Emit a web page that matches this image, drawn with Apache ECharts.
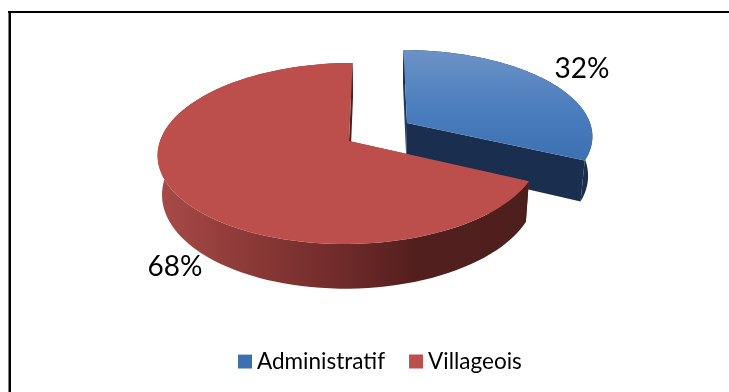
<!DOCTYPE html>
<html>
<head>
<meta charset="utf-8">
<style>html,body{margin:0;padding:0;background:#fff}#c{width:729px;height:392px}</style>
<script src="https://cdn.jsdelivr.net/npm/echarts@6/dist/echarts.min.js"></script>
</head>
<body>
<div id="c"></div>
<script>
const categories = ['Administratif', 'Villageois'];
const values = [32, 68];

const total = values.reduce((a, b) => a + b, 0);
const VPX = 378, K = 0.138, H = 38.5, BOTTOM_SCALE = 0.98, STEPS = 96;
const grad = (x, y, x2, y2, stops) => ({
  type: 'linear', x, y, x2, y2, global: true,
  colorStops: stops.map(s => ({ offset: s[0], color: s[1] }))
});
const looks = [
  { ax: 407, ay: 123, a: 183, b: 83, labelX: 582, labelY: 69,
    top: grad(0, 50, 0, 162, [[0, '#6c92c6'], [0.55, '#4a7dbd'], [1, '#3d70b1']]),
    wall: '#1a2f4f',
    cutStart: '#1f3a5f', cutEnd: '#1a2f4f' },
  { ax: 349, ay: 141, a: 189, b: 88.8, labelX: 175, labelY: 267,
    top: '#bc4f4c',
    wall: grad(157, 0, 527, 0, [[0, '#a84b48'], [0.22, '#8f3b39'], [0.5, '#6f2b2a'], [0.7, '#521f1e'], [1, '#4d1f1d']]),
    cutStart: '#7a3331', cutEnd: '#4d1f1d' }
];
const swatches = [
  grad(0, 0, 0, 1, [[0, '#5f8ac3'], [1, '#3d70b1']]),
  '#bc4f4c'
];

function project(look, angle, r) {
  const u = Math.sin(angle) * r, v = -Math.cos(angle) * r;
  const w = 1 - K * v;
  return { x: VPX + (look.ax - VPX + look.a * u) / w, y: look.ay + look.b * v / w, w };
}
const under = p => [VPX + (p.x - VPX) * BOTTOM_SCALE, p.y + H / p.w];
const over = p => [p.x, p.y];

function slice(i) {
  return function (params, api) {
    const share = api.value(0) / total * Math.PI * 2;
    let before = 0;
    for (let j = 0; j < i; j++) before += values[j];
    const a0 = before / total * Math.PI * 2, a1 = a0 + share;
    const look = looks[i];
    const rim = [];
    for (let s = 0; s <= STEPS; s++) rim.push(project(look, a0 + (a1 - a0) * s / STEPS, 1));
    const apex = project(look, 0, 0);
    const poly = (points, fill) => ({ type: 'polygon', shape: { points }, style: { fill }, silent: true });
    const first = rim[0], last = rim[rim.length - 1];
    return {
      type: 'group',
      children: [
        poly([over(first), over(apex), under(apex), under(first)], look.cutStart),
        poly(rim.map(over).concat(rim.slice().reverse().map(under)), look.wall),
        poly([over(apex), over(last), under(last), under(apex)], look.cutEnd),
        poly([over(apex)].concat(rim.map(over)), look.top),
        { type: 'text', silent: true, style: {
            x: look.labelX, y: look.labelY, text: api.value(0) + '%',
            fill: '#000', font: '28px Lato', align: 'center', verticalAlign: 'middle' } }
      ]
    };
  };
}

const chart = echarts.init(document.getElementById('c'), null, { renderer: 'canvas' });
chart.setOption({
  animation: false,
  backgroundColor: '#fff',
  legend: {
    left: 238, top: 350, itemWidth: 14, itemHeight: 14, itemGap: 24, padding: 0,
    icon: 'rect', selectedMode: false,
    textStyle: { fontFamily: 'Lato', fontSize: 22.5, color: '#000' },
    data: categories.map((name, i) => ({ name, itemStyle: { color: swatches[i] } }))
  },
  graphic: [
    { type: 'rect', shape: { x: 8, y: 11, width: 721, height: 2 }, style: { fill: '#000' }, silent: true },
    { type: 'rect', shape: { x: 8.5, y: 11, width: 2.5, height: 381 }, style: { fill: '#000' }, silent: true }
  ],
  series: categories.map((name, i) => ({
    type: 'custom', name, coordinateSystem: 'none', clip: false, silent: true,
    itemStyle: { color: i === 0 ? '#4a7dbd' : '#bc4f4c' },
    renderItem: slice(i),
    data: [[values[i]]]
  }))
});
</script>
</body>
</html>
